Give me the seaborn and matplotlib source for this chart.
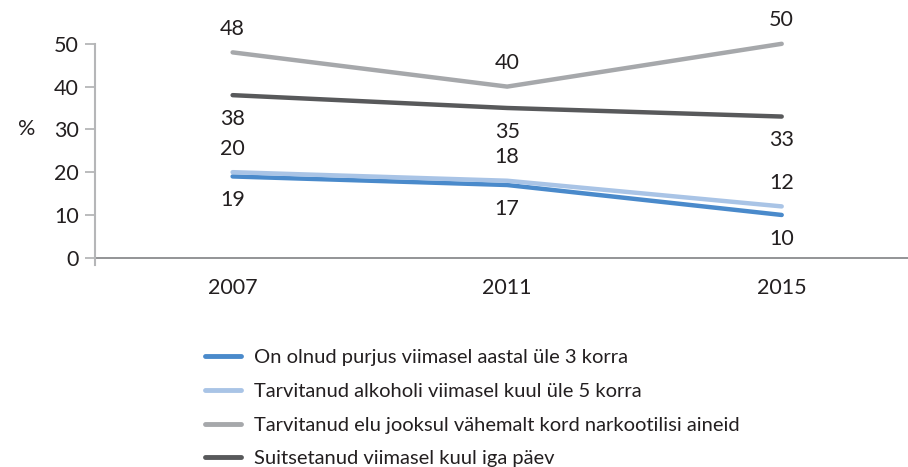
import pandas as pd
import matplotlib.pyplot as plt
import seaborn as sns

# data
years = ["2007", "2011", "2015"]
series_names = [
    "On olnud purjus viimasel aastal üle 3 korra",
    "Tarvitanud alkoholi viimasel kuul üle 5 korra",
    "Tarvitanud elu jooksul vähemalt kord narkootilisi aineid",
    "Suitsetanud viimasel kuul iga päev",
]
purjus = [19, 17, 10]
alkohol = [20, 18, 12]
narko = [48, 40, 50]
suits = [38, 35, 33]

colors = ["#4a8acb", "#a9c4e6", "#a6a8ab", "#58595b"]
# label placement: +1 above, -1 below
label_side = [-1, 1, 1, -1]
TEXT = "#231f20"

rows = []
for name, vals in zip(series_names, [purjus, alkohol, narko, suits]):
    for y, v in zip(years, vals):
        rows.append({"Aasta": y, "Näitaja": name, "Väärtus": v})
df = pd.DataFrame(rows)

sns.set_style("white")
plt.rcParams["font.family"] = ["Lato", "DejaVu Sans"]
plt.rcParams["text.color"] = TEXT

fig = plt.figure(figsize=(9.08, 4.67), dpi=100)
ax = fig.add_axes([0.105, 0.4325, 0.895, 0.5195])

sns.lineplot(data=df, x="Aasta", y="Väärtus", hue="Näitaja", hue_order=series_names,
             palette=dict(zip(series_names, colors)), sort=False, linewidth=3.2,
             ax=ax, legend=False, solid_capstyle="round")

# value labels
for name, side in zip(series_names, label_side):
    sub = df[df["Näitaja"] == name]
    for i, (_, r) in enumerate(sub.iterrows()):
        ax.annotate(str(r["Väärtus"]), (i, r["Väärtus"]), xytext=(0, 17 * side),
                    textcoords="offset points", ha="center", va="center",
                    fontsize=15.5, color=TEXT)

ax.set_xlim(-0.5, 2.46)
ax.set_ylim(-1.7, 55)
ax.set_yticks([0, 10, 20, 30, 40, 50])
ax.set_xlabel("")
ax.set_ylabel("%", rotation=0, fontsize=15.5, color=TEXT, va="center")
ax.yaxis.set_label_coords(-0.085, 31.7 / 56.7)

for s in ["top", "right", "bottom"]:
    ax.spines[s].set_visible(False)
ax.spines["left"].set_color("#b5b6b8")
ax.spines["left"].set_linewidth(1.5)
ax.spines["left"].set_bounds(-1.7, 50)
ax.axhline(0, color="#8a8b8d", linewidth=1.3, zorder=0)

ax.tick_params(axis="y", length=7, width=1.3, color="#b5b6b8", labelsize=15.5,
               labelcolor=TEXT, pad=5, left=True)
ax.tick_params(axis="x", length=0, labelsize=15.5, labelcolor=TEXT, pad=9)

handles = [plt.Line2D([], [], color=c, linewidth=3.5, solid_capstyle="round") for c in colors]
fig.legend(handles, series_names, loc="upper left", bbox_to_anchor=(0.226, 0.252),
           frameon=False, fontsize=14.5, handlelength=1.8, handletextpad=0.6,
           labelspacing=0.82, borderaxespad=0, borderpad=0)

plt.savefig("out.png", dpi=100)
plt.close()
